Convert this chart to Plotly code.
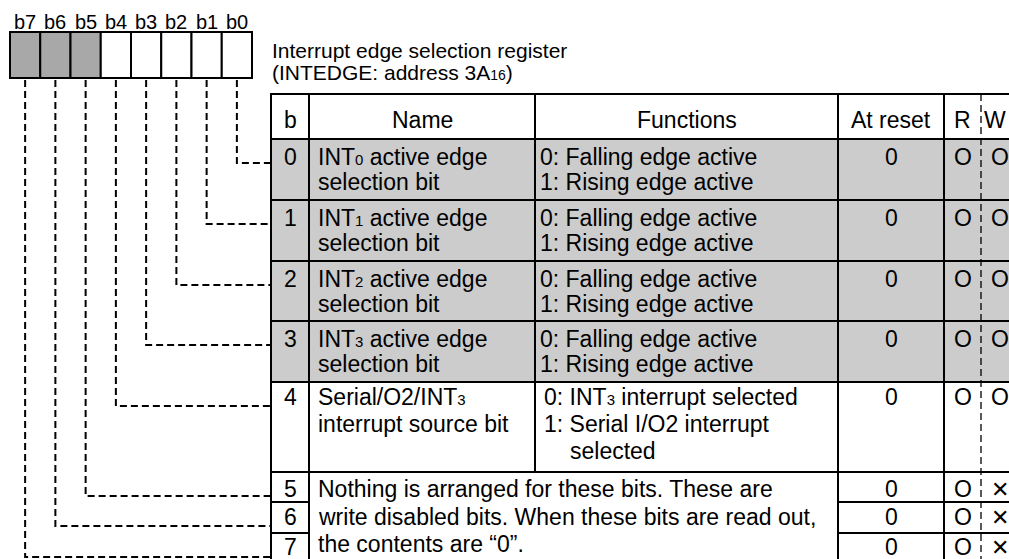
import plotly.graph_objects as go

# ---------------- data ----------------
bit_labels = ["b7", "b6", "b5", "b4", "b3", "b2", "b1", "b0"]
unused_bits = ["b7", "b6", "b5"]
register_title = ["Interrupt edge selection register",
                  "(INTEDGE: address 3A<span style='font-size:14px'>16</span>)"]
headers = ["b", "Name", "Functions", "At reset", "R", "W"]
bit_numbers = ["0", "1", "2", "3", "4", "5", "6", "7"]
S = lambda d: f"<span style='font-size:15px'>{d}</span>"
names = [
    [f"INT{S('0')} active edge", "selection bit"],
    [f"INT{S('1')} active edge", "selection bit"],
    [f"INT{S('2')} active edge", "selection bit"],
    [f"INT{S('3')} active edge", "selection bit"],
    [f"Serial/O2/INT{S('3')}", "interrupt source bit"],
]
functions = [
    ["0: Falling edge active", "1: Rising edge active"],
    ["0: Falling edge active", "1: Rising edge active"],
    ["0: Falling edge active", "1: Rising edge active"],
    ["0: Falling edge active", "1: Rising edge active"],
    [f"0: INT{S('3')} interrupt selected", "1: Serial I/O2 interrupt", "selected"],
]
unused_note = ["Nothing is arranged for these bits. These are",
               "write disabled bits. When these bits are read out,",
               "the contents are \u201c0\u201d."]
reset_values = ["0", "0", "0", "0", "0", "0", "0", "0"]
read_access = ["O", "O", "O", "O", "O", "O", "O", "O"]
write_access = ["O", "O", "O", "O", "O", "\u2715", "\u2715", "\u2715"]
shaded_rows = [0, 1, 2, 3]

# ---------------- layout constants ----------------
FONT = "Liberation Sans, Arial, Helvetica, sans-serif"
SYM_FONT = "DejaVu Sans, sans-serif"
W, H = 1009, 559
BOX_L, BOX_T, BOX_B, CELL = 10, 32, 78, 30.25
TX = [271, 309, 535, 838, 944, 981, 1020]  # table column edges
HDR_T, HDR_B = 94, 139
ROW_T = [139, 200, 261, 321, 382, 472, 502, 533]
TABLE_B = 565
GRAY_T = "#cccccc"
GRAY_B = "#a8a8a8"
LW = 2
FS = 23

fig = go.Figure()
fig.add_trace(go.Scatter(x=[1], y=[1], mode="markers", marker=dict(opacity=0),
                         hoverinfo="skip"))
shapes = []
anns = []


def text(x, base, t, size=FS, xa="left", center=None, family=FONT):
    y = base - 0.345 * size if center is None else center
    anns.append(dict(x=x, y=y, text=t, xanchor=xa, yanchor="middle",
                     showarrow=False, borderpad=0, xref="x", yref="y",
                     font=dict(size=size, family=family, color="black")))


def symbol(x, base, s):
    if s == "\u2715":
        text(x, base, s, size=22, xa="center", center=base - 8, family=SYM_FONT)
    else:
        text(x, base, s, size=FS, xa="center")


def rect(x0, y0, x1, y1, fill="white", lw=LW):
    shapes.append(dict(type="rect", x0=x0, y0=y0, x1=x1, y1=y1, xref="x", yref="y",
                       fillcolor=fill, line=dict(color="black", width=lw), layer="below"))


# bit boxes
for i, lab in enumerate(bit_labels):
    x0 = BOX_L + i * CELL
    rect(x0, BOX_T, x0 + CELL, BOX_B, GRAY_B if lab in unused_bits else "white")
    text(x0 + CELL / 2, 28.5, lab, size=20, xa="center")

# title
text(271, 58, register_title[0], size=21)
text(271, 79.5, register_title[1], size=21)

# header
for j in range(4):
    rect(TX[j], HDR_T, TX[j + 1], HDR_B)
rect(TX[4], HDR_T, TX[6], HDR_B)
hx = [(TX[0] + TX[1]) / 2, (TX[1] + TX[2]) / 2, (TX[2] + TX[3]) / 2, (TX[3] + TX[4]) / 2, 962, 995]
for h, x in zip(headers, hx):
    text(x, 128, h, xa="center")

# body rows
row_bottom = ROW_T[1:] + [TABLE_B]
first_base = [25.5, 25.5, 25.5, 25.5, 23, 25, 23, 22]
line_sp = [25.5, 25.5, 25.5, 25.5, 27]
for r, num in enumerate(bit_numbers):
    t, b = ROW_T[r], row_bottom[r]
    fill = GRAY_T if r in shaded_rows else "white"
    base = t + first_base[r]
    rect(TX[0], t, TX[1], b, fill)
    text((TX[0] + TX[1]) / 2, base, num, xa="center")
    if r < len(names):
        rect(TX[1], t, TX[2], b, fill)
        rect(TX[2], t, TX[3], b, fill)
        for k, ln in enumerate(names[r]):
            text(317, base + k * line_sp[r], ln)
        for k, ln in enumerate(functions[r]):
            indent = 0 if ln[:2] in ("0:", "1:") else 26
            x0 = 539 if r < 4 else 543
            text(x0 + indent, base + k * line_sp[r], ln)
    rect(TX[3], t, TX[4], b, fill)
    rect(TX[4], t, TX[6], b, fill)
    text((TX[3] + TX[4]) / 2, base, reset_values[r], xa="center")
    symbol(963, base, read_access[r])
    symbol(1000, base, write_access[r])

# merged note cell for unused bits
rect(TX[1], ROW_T[5], TX[3], TABLE_B)
for k, ln in enumerate(unused_note):
    text(317, ROW_T[5] + 25 + k * 27.5, ln)

# R/W dashed divider
shapes.append(dict(type="line", x0=TX[5], x1=TX[5], y0=HDR_T, y1=TABLE_B, xref="x", yref="y",
                   line=dict(color="black", width=1.3, dash="7px,4px"), layer="above"))

# dashed connectors from bit boxes to table rows
for r, num in enumerate(bit_numbers):
    bit_idx = bit_labels.index("b" + num)
    xc = BOX_L + bit_idx * CELL + CELL / 2
    yc = ROW_T[r] + 24
    shapes.append(dict(type="path", path=f"M {xc},{BOX_B + 2} L {xc},{yc} L {TX[0]},{yc}",
                       xref="x", yref="y", line=dict(color="black", width=2, dash="7px,4px"),
                       layer="above"))

fig.update_layout(
    width=W, height=H, margin=dict(l=0, r=0, t=0, b=0),
    paper_bgcolor="white", plot_bgcolor="white", showlegend=False,
    xaxis=dict(range=[0, W], visible=False, fixedrange=True),
    yaxis=dict(range=[H, 0], visible=False, fixedrange=True),
    shapes=shapes, annotations=anns,
)
fig.write_html("out.html", config={"displayModeBar": False},
               post_script="document.body.style.margin='0';document.body.style.overflow='hidden';")
